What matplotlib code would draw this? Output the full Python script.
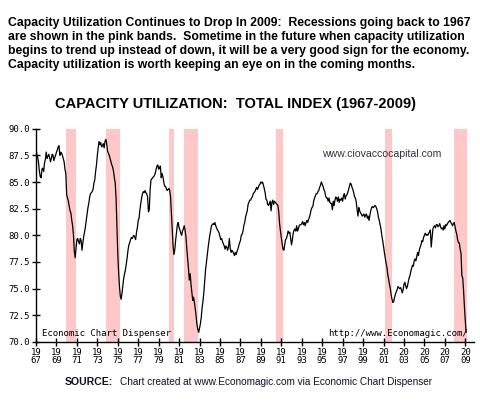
import numpy as np
import matplotlib
matplotlib.use('Agg')
import matplotlib.pyplot as plt

# monthly capacity utilization, total index
cu_1967 = [88.0, 87.6, 87.3, 86.8, 86.0, 85.5, 85.4, 86.2, 86.3, 86.0, 86.8, 87.1]
cu_1968 = [87.8, 87.2, 87.4, 87.6, 87.3, 86.9, 87.2, 87.6, 87.5, 87.0, 87.3, 87.5]
cu_1969 = [87.8, 88.0, 88.3, 88.4, 87.5, 87.8, 87.7, 87.5, 87.2, 86.9, 86.2, 85.8]
cu_1970 = [83.8, 83.5, 83.2, 82.7, 82.3, 82.1, 81.4, 80.9, 80.0, 78.5, 77.9, 78.8]
cu_1971 = [79.6, 79.7, 79.4, 79.2, 79.7, 79.5, 78.6, 79.3, 79.9, 80.3, 80.8, 81.4]
cu_1972 = [82.0, 82.6, 83.0, 83.6, 83.9, 84.0, 84.1, 84.3, 84.9, 85.2, 86.0, 86.6]
cu_1973 = [87.5, 88.2, 88.8, 88.5, 88.7, 88.3, 88.4, 88.6, 88.2, 88.8, 89.0, 88.6]
cu_1974 = [87.9, 87.7, 87.5, 87.2, 86.9, 86.6, 86.4, 86.0, 85.4, 84.9, 83.5, 81.0]
cu_1975 = [78.3, 76.5, 75.2, 74.3, 74.0, 74.6, 75.3, 76.0, 76.4, 76.8, 77.3, 77.9]
cu_1976 = [78.6, 79.1, 79.3, 79.6, 79.8, 79.7, 79.9, 80.0, 79.8, 79.6, 80.3, 80.7]
cu_1977 = [81.4, 81.6, 82.4, 83.0, 83.5, 83.9, 84.1, 84.0, 84.2, 84.0, 83.9, 83.6]
cu_1978 = [82.2, 82.4, 84.3, 85.2, 85.3, 85.4, 85.5, 85.6, 85.8, 86.2, 86.5, 86.6]
cu_1979 = [86.2, 86.3, 86.5, 85.4, 85.8, 85.5, 85.0, 84.6, 84.6, 84.4, 84.2, 84.3]
cu_1980 = [84.4, 84.2, 83.6, 82.0, 80.3, 78.9, 78.2, 78.7, 79.6, 80.3, 81.0, 81.2]
cu_1981 = [80.7, 80.5, 80.2, 80.0, 80.4, 80.6, 80.9, 80.5, 79.9, 78.8, 77.9, 76.9]
cu_1982 = [75.8, 76.4, 75.4, 74.6, 73.9, 74.2, 73.7, 73.1, 72.4, 71.6, 71.2, 70.9]
cu_1983 = [71.3, 71.7, 72.3, 73.2, 73.8, 74.6, 75.6, 76.7, 77.4, 78.1, 78.8, 79.4]
cu_1984 = [80.0, 80.4, 80.9, 81.0, 81.1, 81.0, 81.2, 80.9, 80.7, 80.5, 80.4, 80.2]
cu_1985 = [79.9, 79.6, 79.7, 79.4, 79.2, 79.0, 78.7, 79.0, 78.9, 78.6, 78.9, 79.7]
cu_1986 = [78.8, 78.4, 78.6, 78.5, 78.3, 78.1, 78.4, 78.2, 78.5, 78.7, 79.0, 79.3]
cu_1987 = [79.5, 80.0, 80.1, 80.4, 80.9, 81.2, 81.7, 82.0, 82.3, 82.9, 83.1, 83.3]
cu_1988 = [83.3, 83.5, 83.6, 83.9, 84.0, 84.1, 84.3, 84.5, 84.3, 84.5, 84.7, 84.8]
cu_1989 = [85.0, 84.9, 85.0, 84.7, 84.4, 84.0, 83.4, 83.3, 82.9, 82.8, 83.0, 83.2]
cu_1990 = [82.3, 83.1, 83.3, 82.9, 83.2, 83.1, 83.0, 82.9, 82.8, 82.2, 81.1, 80.4]
cu_1991 = [79.8, 79.2, 78.7, 78.6, 79.1, 79.6, 79.7, 80.0, 80.4, 80.2, 80.3, 79.7]
cu_1992 = [79.1, 79.6, 80.2, 80.5, 80.6, 80.4, 80.9, 80.4, 80.6, 80.9, 81.0, 81.0]
cu_1993 = [81.1, 81.3, 81.0, 81.2, 80.9, 81.2, 81.4, 81.2, 81.5, 81.7, 82.0, 82.4]
cu_1994 = [82.6, 82.7, 83.2, 83.5, 83.7, 83.9, 83.9, 84.1, 84.2, 84.5, 84.7, 85.0]
cu_1995 = [84.8, 84.6, 84.3, 84.1, 83.7, 83.5, 83.5, 83.2, 83.5, 83.1, 83.0, 83.0]
cu_1996 = [82.4, 83.2, 82.8, 83.3, 83.6, 83.5, 83.2, 83.6, 83.1, 83.4, 83.3, 83.5]
cu_1997 = [83.2, 83.7, 83.9, 83.4, 83.7, 83.8, 84.0, 84.3, 84.6, 84.9, 84.8, 84.5]
cu_1998 = [84.3, 84.0, 83.6, 83.5, 83.1, 82.4, 81.8, 82.6, 82.3, 82.1, 82.0, 81.8]
cu_1999 = [81.9, 82.0, 81.7, 81.9, 82.0, 81.6, 81.8, 81.4, 81.9, 82.3, 82.6, 82.7]
cu_2000 = [82.6, 82.7, 82.8, 82.7, 82.5, 82.2, 81.7, 81.4, 81.0, 80.6, 80.0, 79.5]
cu_2001 = [79.0, 78.4, 77.9, 77.4, 77.0, 76.3, 75.9, 75.4, 75.0, 74.4, 74.0, 73.7]
cu_2002 = [73.8, 74.2, 74.5, 74.7, 74.9, 75.2, 75.1, 75.0, 75.1, 74.9, 74.6, 74.9]
cu_2003 = [75.4, 75.6, 75.3, 75.0, 75.2, 75.6, 76.0, 76.2, 76.6, 76.9, 77.2, 77.1]
cu_2004 = [77.6, 77.8, 77.6, 78.0, 78.4, 78.1, 78.6, 78.9, 79.1, 79.5, 79.4, 79.8]
cu_2005 = [80.0, 80.2, 80.0, 80.1, 80.0, 80.2, 80.3, 80.5, 78.9, 79.8, 80.6, 80.8]
cu_2006 = [80.9, 80.7, 81.0, 81.0, 80.8, 80.9, 81.1, 80.8, 80.6, 80.7, 80.5, 80.9]
cu_2007 = [80.6, 81.0, 80.9, 81.1, 81.2, 81.3, 81.4, 81.2, 81.1, 80.9, 81.1, 81.2]
cu_2008 = [80.8, 80.4, 80.1, 79.6, 79.3, 79.3, 78.7, 78.3, 76.2, 76.0, 74.8, 73.3]
cu_2009 = [72.0, 70.9]

# recession periods (start, end) in decimal years
rec_start = [1969.92, 1973.88, 1980.0, 1981.5, 1990.5, 2001.17, 2007.9]
rec_end = [1970.9, 1975.2, 1980.5, 1982.85, 1991.2, 2001.85, 2009.2]

tick_years = list(range(1967, 2010, 2))
y_ticks = [70.0, 72.5, 75.0, 77.5, 80.0, 82.5, 85.0, 87.5, 90.0]

header = ["Capacity Utilization Continues to Drop In 2009:  Recessions going back to 1967",
          "are shown in the pink bands.  Sometime in the future when capacity utilization",
          "begins to trend up instead of down, it will be a very good sign for the economy.",
          "Capacity utilization is worth keeping an eye on in the coming months."]

yearly = [cu_1967, cu_1968, cu_1969, cu_1970, cu_1971, cu_1972, cu_1973, cu_1974,
          cu_1975, cu_1976, cu_1977, cu_1978, cu_1979, cu_1980, cu_1981, cu_1982,
          cu_1983, cu_1984, cu_1985, cu_1986, cu_1987, cu_1988, cu_1989, cu_1990,
          cu_1991, cu_1992, cu_1993, cu_1994, cu_1995, cu_1996, cu_1997, cu_1998,
          cu_1999, cu_2000, cu_2001, cu_2002, cu_2003, cu_2004, cu_2005, cu_2006,
          cu_2007, cu_2008, cu_2009]

x = []
y = []
for i, vals in enumerate(yearly):
    for m, v in enumerate(vals):
        x.append(1967 + i + m / 12.0)
        y.append(v)

fig = plt.figure(figsize=(4.8, 4.08), dpi=100)
ax = fig.add_axes([0.075, 0.1618, 0.9135, 0.5228])

for s, e in zip(rec_start, rec_end):
    ax.axvspan(s, e, color='#ffc8c8', lw=0, zorder=0)

ax.plot(x, y, color='black', lw=0.9, zorder=2)

ax.set_xlim(1967, 2009.9)
ax.set_ylim(70, 90)
for side in ['top', 'right']:
    ax.spines[side].set_visible(False)
ax.spines['left'].set_linewidth(1.0)
ax.spines['bottom'].set_linewidth(1.0)

ax.set_xticks(tick_years)
ax.set_xticklabels(['%s\n%s' % (str(t)[:2], str(t)[2:]) for t in tick_years],
                   family='DejaVu Sans Mono', fontsize=6.5, linespacing=0.85)
ax.set_yticks(y_ticks)
ax.set_yticklabels(['%.1f' % v for v in y_ticks], family='DejaVu Sans Mono', fontsize=6.5)
ax.tick_params(direction='inout', length=6, width=1, pad=1.5)

ax.text(0.014, 0.02, 'Economic Chart Dispenser', transform=ax.transAxes,
        family='DejaVu Sans Mono', fontsize=6.5, va='bottom', ha='left')
ax.text(0.985, 0.02, 'http://www.Economagic.com/', transform=ax.transAxes,
        family='DejaVu Sans Mono', fontsize=6.5, va='bottom', ha='right')
ax.text(0.652, 0.88, 'www.ciovaccocapital.com', transform=ax.transAxes,
        family='Liberation Sans', fontsize=7.6, color='#333348', va='center', ha='left')

for i, line in enumerate(header):
    fig.text(0.017, 0.944 - i * 0.0345, line, family='Liberation Sans', weight='bold',
             fontsize=8.8, va='center', ha='left')

fig.text(0.49, 0.745, 'CAPACITY UTILIZATION:  TOTAL INDEX (1967-2009)',
         family='Liberation Sans', weight='bold', fontsize=10.5, va='center', ha='center')

fig.text(0.135, 0.064, 'SOURCE:', family='Liberation Sans', weight='bold',
         fontsize=7.6, va='center', ha='left', color='#10102a')
fig.text(0.25, 0.064, 'Chart created at www.Economagic.com via Economic Chart Dispenser',
         family='Liberation Sans', fontsize=7.2, va='center', ha='left', color='#10102a')

fig.savefig('out.png', dpi=100)
